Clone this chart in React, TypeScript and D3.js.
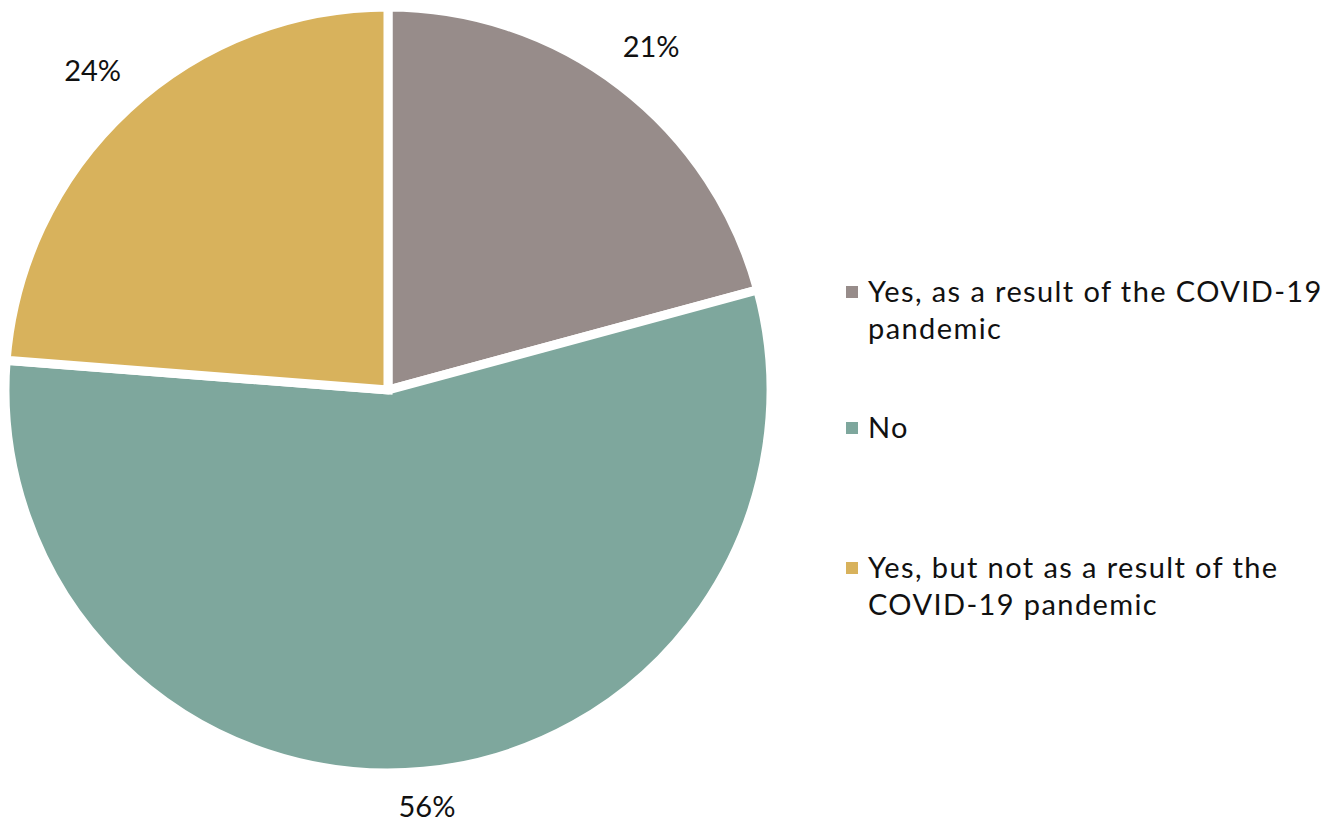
import React from "react";
import * as d3 from "d3";

const categories = [
  "Yes, as a result of the COVID-19 pandemic",
  "No",
  "Yes, but not as a result of the COVID-19 pandemic",
];
const values = [21, 56, 24];
const valueLabels = ["21%", "56%", "24%"];
const legendLines = [
  ["Yes, as a result of the COVID-19", "pandemic"],
  ["No"],
  ["Yes, but not as a result of the", "COVID-19 pandemic"],
];
const colors = ["#978C8A", "#7EA79D", "#D8B25C"];

const W = 1331;
const H = 824;
const FONT = "Lato, 'Open Sans', 'DejaVu Sans', sans-serif";

export default function App() {
  const cx = 388;
  const cy = 390;
  const r = 383;
  const pie = d3
    .pie<number>()
    .sort(null)
    .value((d) => d)(values);
  const arc = d3.arc<d3.PieArcDatum<number>>().innerRadius(0).outerRadius(r);

  const labelBase = 416;
  const labelHalfW = 28;

  const legendX = 846;
  const legendY = [302, 438, 578];
  const lineH = 37;

  return (
    <svg
      width={W}
      height={H}
      style={{ position: "absolute", left: 0, top: 0 }}
      fontFamily={FONT}
    >
      <rect width={W} height={H} fill="#fff" />
      <g transform={`translate(${cx},${cy})`}>
        {pie.map((p, i) => (
          <path
            key={i}
            d={arc(p) || ""}
            fill={colors[i]}
            stroke="#fff"
            strokeWidth={9}
            strokeLinejoin="miter"
          />
        ))}
        {pie.map((p, i) => {
          const a = (p.startAngle + p.endAngle) / 2;
          const dist = labelBase + labelHalfW * Math.abs(Math.sin(a));
          const x = dist * Math.sin(a);
          const y = -dist * Math.cos(a);
          return (
            <text
              key={"l" + i}
              x={x}
              y={y}
              dy="0.36em"
              textAnchor="middle"
              fontSize={29}
              fill="#111"
            >
              {valueLabels[i]}
            </text>
          );
        })}
      </g>
      {categories.map((c, i) => (
        <g key={c}>
          <rect
            x={legendX}
            y={legendY[i] - 16}
            width={12}
            height={12}
            fill={colors[i]}
          />
          <text
            x={legendX + 22}
            y={legendY[i]}
            fontSize={29}
            letterSpacing={1.4}
            fill="#111"
          >
            {legendLines[i].map((ln, j) => (
              <tspan key={j} x={legendX + 22} y={legendY[i] + j * lineH}>
                {ln}
              </tspan>
            ))}
          </text>
        </g>
      ))}
    </svg>
  );
}
